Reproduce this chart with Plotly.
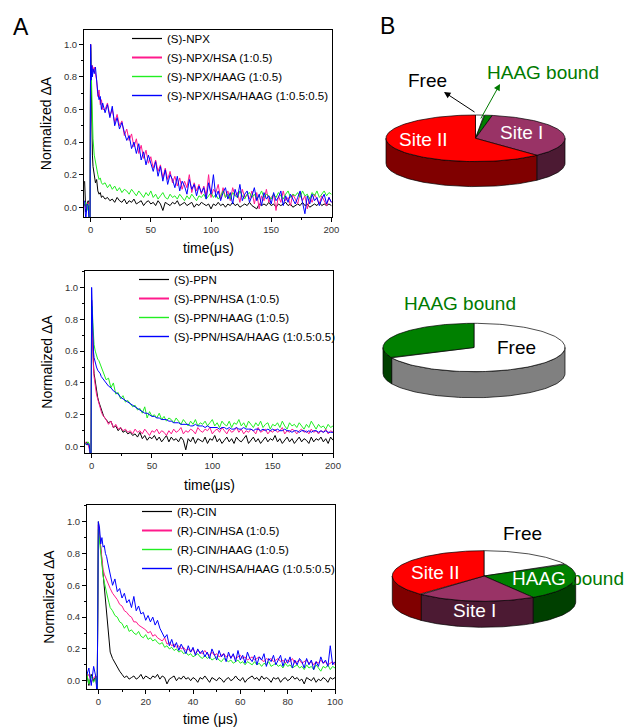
import numpy as np
import plotly.graph_objects as go

W, H = 629, 727
FONT = "Liberation Sans, Arial, sans-serif"

# ---------------- Panel A data ----------------
# time grids (microseconds)
TIME_200 = [-5, -4, -3, -2, -1, -0.5, 0, 0.5, 1, 1.5, 2, 3, 4, 5, 6, 7, 8, 9, 10] + list(range(12, 201, 2))
TIME_100 = [-5, -4, -3, -2, -1, -0.5, 0, 0.5, 1, 1.5, 2, 2.5, 3, 3.5, 4, 4.5, 5] + list(range(6, 101))

NPX = [.16,-.03,.02,.04,-.1,-.12,1.0,.7,.45,.32,.25,.18,.15,.17,.1,.08,.09,.06,.07,
       .05,.06,.04,.05,.03,.06,.04,.03,.05,.02,
       .04,.03,.05,.02,.03,.04,.01,.03,.04,.02,
       .03,.01,.04,.02,-.02,.03,.02,.01,.03,.02,
       .04,.01,.02,.03,.01,.02,.03,0,.02,.01,
       .03,.02,.01,.02,-.01,.02,.01,.03,.01,.02,
       0,.02,.01,.03,.01,.02,0,.01,.02,.01,
       .03,.01,0,-.01,.02,.01,.02,.01,.03,.01,
       .02,0,.02,.01,.02,.03,.01,.02,0,.01,
       .02,.01,.03,.01,.02,0,.01,.02,.01,.03,
       .01,.02,.01,.02,.01]
NPX_HSA = [.02,-.01,.01,.03,-.1,-.12,1.0,.88,.84,.87,.83,.86,.82,.78,.68,.72,.63,.66,.6,
           .6,.64,.56,.6,.52,.57,.5,.53,.44,.48,
           .41,.45,.37,.42,.33,.38,.3,.35,.27,.31,
           .24,.29,.22,.26,.18,.24,.17,.22,.15,.19,
           .13,.18,.11,.16,.12,.2,.09,.15,.1,.14,
           .08,.13,.07,.2,.06,.11,.09,.14,.05,.12,
           .06,.1,.04,.12,.07,.09,.03,.11,.06,.08,
           .05,.1,.02,.09,-.01,.07,.04,.11,.03,.06,
           .08,-.02,.07,.03,.1,.04,.06,.01,.08,.05,
           .02,.09,.04,.07,-.01,.06,.03,.08,.05,.02,
           .07,.04,.01,.06,.03]
NPX_HAAG = [.01,.03,-.02,.02,-.1,-.08,.98,.8,.62,.5,.42,.32,.27,.24,.2,.17,.18,.15,.14,
            .15,.12,.14,.11,.13,.1,.12,.09,.11,.1,
            .08,.11,.09,.07,.1,.08,.06,.09,.07,.1,
            .06,.08,.05,.07,.09,.06,.05,.08,.06,.07,
            .05,.08,.06,.04,.07,.05,.08,.06,.04,.07,
            .06,.08,.05,.07,.09,.06,.08,.05,.07,.1,
            .06,.08,.05,.09,.07,.06,.1,.07,.05,.08,
            .09,.06,.08,.05,.07,.1,.06,.08,.07,.05,
            .08,.06,.09,.07,.05,.08,.1,.06,.08,.07,
            .09,.06,.1,.07,.08,.05,.09,.07,.1,.06,
            .08,.1,.07,.09,.08]
NPX_HSA_HAAG = [.04,-.08,.02,.01,-.12,-.12,1.0,.78,.87,.8,.85,.82,.86,.76,.7,.66,.68,.6,.64,
                .58,.63,.55,.62,.5,.55,.48,.52,.46,.41,
                .44,.36,.4,.33,.39,.29,.34,.26,.32,.27,
                .22,.28,.19,.25,.16,.23,.14,.2,.17,.12,
                .19,.1,.16,.13,.08,.17,.11,.14,.07,.13,
                .09,.12,.05,.15,.08,.2,.06,.1,.04,.09,
                .12,.05,.09,.02,.11,.06,.14,.04,.08,.1,
                .03,.07,.12,.04,.08,.01,.09,.05,.07,.02,
                .09,.04,.06,.1,.01,.07,.03,.08,.05,.02,
                .06,.1,.03,-.04,.07,.02,.08,.04,.06,.01,
                .05,.08,.02,.06,.03]

PPN = [.02,.03,.01,0,-.08,-.1,.92,.72,.6,.52,.46,.4,.35,.31,.28,.26,.24,.21,.19,
       .17,.15,.16,.12,.13,.1,.12,.09,.1,.08,
       .09,.07,.08,.06,.09,.05,.07,.04,.06,.05,
       .07,.04,.06,.03,.05,.07,.03,.06,.04,.05,
       .03,.06,.04,-.02,.05,.03,.06,.02,.05,.04,
       .03,.06,.02,.05,.04,.07,.03,.05,.02,.04,
       .06,.03,.05,.02,.06,.04,.03,.05,.07,.02,
       .04,.06,.03,.05,.02,.04,.06,.03,.05,.04,
       .07,.03,.05,.02,.04,.06,.03,.05,.02,.04,
       .06,.03,.05,.04,.02,.06,.03,.05,.04,.06,
       .03,.05,.02,.06,.04]
PPN_HSA = [.03,.01,.02,-.01,-.1,-.12,.85,.7,.58,.5,.44,.38,.33,.3,.27,.25,.22,.2,.19,
           .17,.14,.16,.12,.14,.11,.12,.1,.11,.09,
           .1,.08,.11,.09,.1,.08,.11,.09,.07,.1,
           .09,.11,.08,.1,.09,.07,.1,.08,.11,.09,
           .1,.12,.08,.1,.09,.11,.1,.08,.12,.1,
           .09,.11,.1,.12,.08,.1,.11,.09,.12,.1,
           .08,.11,.09,.1,.12,.09,.11,.08,.1,.09,
           .11,.1,.08,.12,.09,.1,.11,.08,.1,.09,
           .11,.09,.1,.12,.08,.1,.09,.11,.1,.08,
           .1,.11,.09,.1,.08,.11,.09,.1,.08,.1,
           .09,.11,.08,.1,.09]
PPN_HAAG = [.01,.02,.03,.02,-.08,-.1,.8,.88,.78,.7,.64,.6,.57,.55,.54,.52,.5,.47,.45,
            .42,.43,.37,.4,.33,.34,.3,.32,.28,.29,
            .27,.25,.26,.23,.24,.21,.25,.18,.22,.19,
            .2,.18,.21,.17,.19,.16,.18,.17,.15,.18,
            .16,.14,.17,.15,.13,.16,.14,.17,.13,.15,
            .14,.16,.13,.15,.17,.13,.15,.12,.16,.14,
            .13,.16,.12,.15,.14,.17,.13,.15,.12,.16,
            .14,.12,.15,.13,.16,.12,.14,.15,.11,.14,
            .13,.15,.12,.16,.13,.11,.15,.13,.14,.12,
            .15,.13,.11,.14,.12,.16,.13,.11,.14,.12,
            .13,.11,.14,.12,.13]
PPN_HSA_HAAG = [.02,.01,.02,.01,-.06,-.1,1.0,.78,.66,.6,.56,.52,.5,.48,.47,.46,.44,.43,.42,
                .4,.38,.37,.35,.34,.33,.31,.3,.29,.28,
                .27,.26,.25,.24,.23,.22,.21,.21,.2,.19,
                .19,.18,.18,.17,.17,.17,.16,.16,.15,.15,
                .15,.14,.14,.14,.14,.13,.13,.14,.13,.13,
                .13,.12,.13,.12,.12,.12,.12,.11,.12,.12,
                .11,.12,.11,.11,.12,.11,.11,.12,.11,.11,
                .11,.1,.11,.11,.1,.11,.1,.11,.1,.11,
                .1,.11,.1,.1,.11,.1,.1,.09,.1,.1,
                .09,.1,.1,.09,.1,.09,.1,.1,.09,.1,
                .09,.1,.09,.09,.09]

CIN = [.05,-.03,.04,0,.03,-.1,1.0,.92,.85,.78,.68,.6,.5,.42,.33,.25,.18,
       .14,.11,.08,.06,.04,.02,.03,.01,.02,.03,
       .01,.02,.04,.01,.03,.02,.01,.03,.02,.04,
       .01,.03,.02,-.02,.01,.02,.03,0,.02,.01,
       .03,.01,.02,0,.02,.01,-.01,.02,.01,.03,
       .01,-.01,.02,.01,0,.02,.01,-.01,.01,.02,
       0,.01,.03,.01,0,.02,-.01,.01,.02,.03,
       .01,.02,0,.03,.01,.02,.01,-.01,.02,.01,
       .02,-.01,.01,.02,0,.01,.03,.01,.02,0,
       .01,-.02,.02,.01,0,.02,-.01,.01,0,.02,
       .01,-.01,.02,.01,.02]
CIN_HSA = [.02,.04,-.01,.02,.03,-.1,.98,.9,.82,.76,.7,.67,.65,.64,.62,.6,.58,
           .55,.53,.51,.48,.47,.44,.43,.41,.4,.37,
           .37,.35,.34,.33,.32,.3,.31,.28,.29,.27,
           .26,.25,.27,.23,.24,.22,.23,.21,.22,.2,
           .21,.19,.2,.18,.2,.17,.19,.18,.17,.19,
           .17,.16,.18,.16,.17,.15,.16,.17,.15,.16,
           .15,.16,.14,.15,.16,.14,.15,.13,.14,.15,
           .13,.14,.15,.13,.12,.14,.13,.14,.12,.13,
           .14,.12,.13,.11,.13,.12,.14,.11,.12,.13,
           .11,.12,.13,.11,.12,.1,.12,.11,.13,.11,
           .12,.1,.11,.12,.1]
CIN_HAAG = [.05,-.02,.03,-.01,.02,-.08,.95,.87,.8,.74,.66,.62,.58,.55,.52,.49,.46,
            .44,.41,.4,.37,.36,.33,.35,.31,.32,.3,
            .29,.31,.28,.27,.29,.26,.27,.25,.26,.24,
            .23,.24,.21,.22,.2,.21,.19,.2,.18,.19,
            .17,.18,.16,.17,.15,.16,.17,.15,.14,.16,
            .14,.15,.13,.14,.15,.13,.12,.14,.13,.12,
            .13,.11,.12,.13,.11,.12,.1,.12,.11,.1,
            .12,.1,.11,.09,.11,.1,.12,.09,.1,.11,
            .09,.1,.08,.11,.09,.1,.08,.09,.1,.08,
            .09,.07,.1,.08,.09,.07,.1,.08,.06,.09,
            .08,.1,.07,.09,.08]
CIN_HSA_HAAG = [.03,.08,-.03,.09,.02,-.12,1.0,.96,.86,.9,.84,.85,.8,.78,.74,.7,.66,
                .6,.64,.56,.58,.52,.55,.49,.51,.46,.53,
                .44,.47,.42,.43,.38,.41,.37,.4,.35,.38,
                .33,.3,.27,.29,.22,.26,.21,.24,.19,.23,
                .2,.17,.22,.18,.21,.16,.2,.17,.19,.15,
                .18,.14,.2,.16,.13,.19,.15,.17,.12,.18,
                .14,.17,.12,.19,.13,.16,.11,.18,.14,.12,
                .16,.1,.15,.13,.17,.09,.14,.12,.16,.1,
                .13,.16,.09,.14,.11,.15,.08,.13,.1,.14,
                .12,.08,.14,.1,.13,.07,.12,.09,.15,.11,
                .13,.09,.22,.1,.12]

NAMES_1 = ["(S)-NPX", "(S)-NPX/HSA (1:0.5)", "(S)-NPX/HAAG (1:0.5)", "(S)-NPX/HSA/HAAG (1:0.5:0.5)"]
NAMES_2 = ["(S)-PPN", "(S)-PPN/HSA (1:0.5)", "(S)-PPN/HAAG (1:0.5)", "(S)-PPN/HSA/HAAG (1:0.5:0.5)"]
NAMES_3 = ["(R)-CIN", "(R)-CIN/HSA (1:0.5)", "(R)-CIN/HAAG (1:0.5)", "(R)-CIN/HSA/HAAG (1:0.5:0.5)"]
Y_TICKS = [0.0, 0.2, 0.4, 0.6, 0.8, 1.0]

# ---------------- Panel B data ----------------
# slice order: clockwise from 12 o'clock
PIE_LABELS = ["Free", "HAAG bound", "Site I", "Site II"]
PIE1_PCT = [1.5, 1.5, 35, 62]
PIE2_PCT = [68, 32, 0, 0]
PIE3_PCT = [17, 24, 21, 38]

TOP_COL = {"Free": "#FFFFFF", "HAAG bound": "#008000", "Site I": "#993366", "Site II": "#FF0000"}
SIDE_COL = {"Free": "#808080", "HAAG bound": "#004000", "Site I": "#4C1A33", "Site II": "#800000"}
LINE_COLS = ["#000000", "#FF1A8C", "#22EE22", "#0000FF"]
LEGEND_WIDTHS = [1.2, 2, 1.4, 1.4]


def fx(px):  # page pixel -> paper x
    return px / W


def fy(py):  # page pixel -> paper y
    return 1 - py / H


panels = [
    dict(t=TIME_200, ys=[NPX, NPX_HSA, NPX_HAAG, NPX_HSA_HAAG], names=NAMES_1,
         px=(84, 332), py=(30, 217), xr=[-5.5, 200.5], yr=[-0.06, 1.088], dx=50, mdx=25,
         xtitle="time(μs)", xt=(208, 248), leg=(127, 24)),
    dict(t=TIME_200, ys=[PPN, PPN_HSA, PPN_HAAG, PPN_HSA_HAAG], names=NAMES_2,
         px=(85, 333), py=(271, 453), xr=[-5.5, 200], yr=[-0.04, 1.103], dx=50, mdx=25,
         xtitle="time(μs)", xt=(209, 485), leg=(134, 265)),
    dict(t=TIME_100, ys=[CIN, CIN_HSA, CIN_HAAG, CIN_HSA_HAAG], names=NAMES_3,
         px=(87, 335), py=(505, 689), xr=[-4.8, 100], yr=[-0.052, 1.105], dx=20, mdx=10,
         xtitle="time (μs)", xt=(210, 719), leg=(137, 497)),
]

fig = go.Figure()
layout = dict(width=W, height=H, margin=dict(l=0, r=0, t=0, b=0, pad=0, autoexpand=False),
              paper_bgcolor="white", plot_bgcolor="rgba(0,0,0,0)",
              font=dict(family=FONT, color="black"))

for i, p in enumerate(panels, start=1):
    sfx = "" if i == 1 else str(i)
    legname = "legend" if i == 1 else f"legend{i}"
    for y, name, col, lw in zip(p["ys"], p["names"], LINE_COLS, LEGEND_WIDTHS):
        assert len(y) == len(p["t"]), (name, len(y), len(p["t"]))
        fig.add_trace(go.Scatter(x=p["t"], y=y, mode="lines", name=name, showlegend=False,
                                 line=dict(color=col, width=1), xaxis=f"x{sfx}", yaxis=f"y{sfx}",
                                 hoverinfo="skip"))
        # legend entry (no marks of its own)
        fig.add_trace(go.Scatter(x=[None], y=[None], mode="lines", name=name,
                                 line=dict(color=col, width=lw), xaxis=f"x{sfx}", yaxis=f"y{sfx}",
                                 legend=legname, hoverinfo="skip"))
    common = dict(showline=True, linecolor="black", linewidth=1, mirror=True,
                  ticks="outside", ticklen=4, tickwidth=1, tickcolor="black",
                  showgrid=False, zeroline=False,
                  tickfont=dict(size=9.5, color="#333333", family=FONT))
    layout[f"xaxis{sfx}"] = dict(common, domain=[fx(p["px"][0]), fx(p["px"][1])], range=p["xr"],
                                 anchor=f"y{sfx}", tick0=0, dtick=p["dx"],
                                 minor=dict(ticks="outside", ticklen=2, dtick=p["mdx"], tickcolor="black"))
    layout[f"yaxis{sfx}"] = dict(common, domain=[fy(p["py"][1]), fy(p["py"][0])], range=p["yr"],
                                 anchor=f"x{sfx}", tickvals=Y_TICKS, tickformat=".1f",
                                 minor=dict(ticks="outside", ticklen=2, dtick=0.1, tickcolor="black"),
                                 title=dict(text="Normalized ΔA", font=dict(size=14, family=FONT), standoff=8))
    layout[legname] = dict(x=fx(p["leg"][0]), y=fy(p["leg"][1]), xanchor="left", yanchor="top",
                           bgcolor="rgba(0,0,0,0)", borderwidth=0, tracegroupgap=0,
                           font=dict(size=11.5, family=FONT, color="black"))

# ---------------- Panel B: 3-D style pies on a pixel-scaled hidden axis ----------------
layout["xaxis4"] = dict(domain=[0, 1], range=[0, W], visible=False, fixedrange=True, anchor="y4")
layout["yaxis4"] = dict(domain=[0, 1], range=[H, 0], visible=False, fixedrange=True, anchor="x4")

pies = [
    dict(pct=PIE1_PCT, c=(475.5, 138.3), rx=89.5, ry=23.3, d=25),
    dict(pct=PIE2_PCT, c=(474, 347.5), rx=91, ry=24.2, d=26),
    dict(pct=PIE3_PCT, c=(484, 576), rx=91.7, ry=25.3, d=26),
]


def poly(xs, ys, fill):
    fig.add_trace(go.Scatter(x=xs, y=ys, mode="lines", fill="toself", fillcolor=fill,
                             line=dict(color="black", width=0.7), xaxis="x4", yaxis="y4",
                             showlegend=False, hoverinfo="skip"))


for pie in pies:
    pct = np.array(pie["pct"], dtype=float)
    cum = np.concatenate([[0], np.cumsum(pct)]) / pct.sum() * 360.0
    cx, cy = pie["c"]
    rx, ry, d = pie["rx"], pie["ry"], pie["d"]
    # side walls (front half only: 90..270 deg clockwise from 12)
    for k, lab in enumerate(PIE_LABELS):
        if pct[k] <= 0:
            continue
        lo, hi = max(cum[k], 90), min(cum[k + 1], 270)
        if hi > lo:
            ph = np.radians(np.linspace(lo, hi, 80))
            xs = cx + rx * np.sin(ph)
            ys = cy - ry * np.cos(ph)
            poly(np.concatenate([xs, xs[::-1], xs[:1]]),
                 np.concatenate([ys, ys[::-1] + d, ys[:1]]), SIDE_COL[lab])
    # top face slices
    for k, lab in enumerate(PIE_LABELS):
        if pct[k] <= 0:
            continue
        ph = np.radians(np.linspace(cum[k], cum[k + 1], 120))
        xs = np.concatenate([[cx], cx + rx * np.sin(ph), [cx]])
        ys = np.concatenate([[cy], cy - ry * np.cos(ph), [cy]])
        poly(xs, ys, TOP_COL[lab])

fig.update_layout(**layout)


def label(x, y, text, color, size=19):
    fig.add_annotation(x=x, y=y, xref="x4", yref="y4", text=text, showarrow=False,
                       xanchor="center", yanchor="middle",
                       font=dict(size=size, color=color, family=FONT))


# x-axis titles of panel A
for p in panels:
    label(p["xt"][0], p["xt"][1], p["xtitle"], "black", size=14)

# pie 1 labels + arrows
label(427, 80, "Free", "black")
label(543, 72, "HAAG bound", "#007A00")
label(423, 139, "Site II", "white")
label(521, 132, "Site I", "white")
fig.add_annotation(x=444, y=92, ax=476, ay=113, xref="x4", yref="y4", axref="x4", ayref="y4",
                   text="", showarrow=True, arrowhead=2, arrowsize=1.3, arrowwidth=1, arrowcolor="black")
fig.add_annotation(x=500, y=84, ax=480, ay=120, xref="x4", yref="y4", axref="x4", ayref="y4",
                   text="", showarrow=True, arrowhead=2, arrowsize=1.3, arrowwidth=1, arrowcolor="#007A00")
# pie 2 labels
label(460, 303, "HAAG bound", "#007A00")
label(516, 347, "Free", "black")
# pie 3 labels
label(522, 533, "Free", "black")
label(435, 572, "Site II", "white")
label(568, 578, '<span style="color:white">HAAG</span> bound', "#007A00")
label(474, 610, "Site I", "white")

# panel letters
label(21, 27, "A", "black", size=23)
label(387, 26, "B", "black", size=23)

# place the figure flush with the page corner (no default body margin / scrollbars)
fig.write_html("out.html", config={"displayModeBar": False},
               post_script="document.body.style.margin='0';document.body.style.overflow='hidden';")
